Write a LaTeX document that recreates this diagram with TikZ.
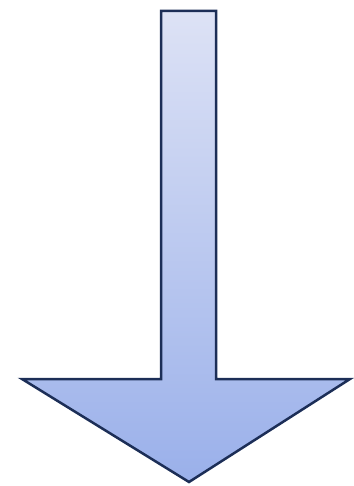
\documentclass[tikz,border=0pt]{standalone}
\usetikzlibrary{calc}
\definecolor{arrowtop}{HTML}{DDE2F5}
\definecolor{arrowbottom}{HTML}{9AB0EA}
\definecolor{arrowline}{HTML}{1C2E57}
\begin{document}
\begin{tikzpicture}[x=1pt,y=-1pt,
    downarrow/.style={draw=arrowline, line width=2.5pt, line join=miter,
        top color=arrowtop, bottom color=arrowbottom}
  ]
  \useasboundingbox (0,0) rectangle (353,486);
  % shaft and head in one outline
  \path[downarrow] (161,11) -- (216,11) -- (216,379) -- (350,379)
      -- (189,482) -- (22,379) -- (161,379) -- cycle;
\end{tikzpicture}
\end{document}
